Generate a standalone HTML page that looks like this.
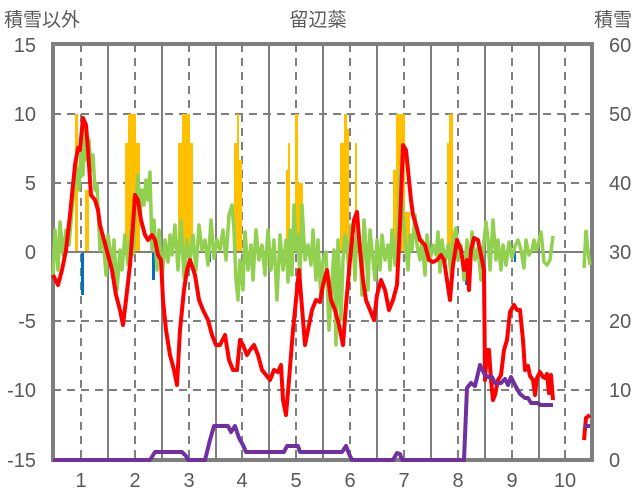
<!DOCTYPE html>
<html><head><meta charset="utf-8"><style>
body{margin:0;background:#fff;}
svg{display:block;font-family:"Liberation Sans","Noto Sans CJK JP",sans-serif;}
</style></head><body>
<svg width="636" height="501" viewBox="0 0 636 501">
<rect width="636" height="501" fill="#fff"/>
<g fill="#595959" font-size="20">
<text x="4" y="26" font-size="19">積雪以外</text>
<text x="318" y="26" text-anchor="middle" font-size="19">留辺蘂</text>
<text x="632" y="26" text-anchor="end" font-size="19">積雪</text>
<g text-anchor="end">
<text x="36" y="52">15</text><text x="36" y="121">10</text><text x="36" y="190">5</text>
<text x="36" y="259">0</text><text x="36" y="328">-5</text><text x="36" y="397">-10</text><text x="36" y="467">-15</text>
</g>
<g text-anchor="start">
<text x="609" y="52">60</text><text x="609" y="121">50</text><text x="609" y="190">40</text>
<text x="609" y="259">30</text><text x="609" y="328">20</text><text x="609" y="397">10</text><text x="609" y="467">0</text>
</g>
<g text-anchor="middle">
<text x="81" y="487">1</text><text x="135" y="487">2</text><text x="189" y="487">3</text><text x="242" y="487">4</text><text x="296" y="487">5</text>
<text x="350" y="487">6</text><text x="404" y="487">7</text><text x="458" y="487">8</text><text x="512" y="487">9</text><text x="565" y="487">10</text>
</g>
</g>
<!-- grid -->
<g stroke="#7f7f7f" stroke-width="2" stroke-dasharray="8,6">
<line x1="53" y1="114" x2="592" y2="114"/><line x1="53" y1="183" x2="592" y2="183"/>
<line x1="53" y1="321" x2="592" y2="321"/><line x1="53" y1="390" x2="592" y2="390"/>
<line x1="81" y1="44" x2="81" y2="460"/><line x1="135" y1="44" x2="135" y2="460"/><line x1="189" y1="44" x2="189" y2="460"/>
<line x1="242" y1="44" x2="242" y2="460"/><line x1="296" y1="44" x2="296" y2="460"/><line x1="350" y1="44" x2="350" y2="460"/>
<line x1="404" y1="44" x2="404" y2="460"/><line x1="458" y1="44" x2="458" y2="460"/><line x1="512" y1="44" x2="512" y2="460"/>
<line x1="565" y1="44" x2="565" y2="460"/>
</g>
<g stroke="#7f7f7f" stroke-width="2">
<line x1="108" y1="44" x2="108" y2="460"/><line x1="162" y1="44" x2="162" y2="460"/><line x1="216" y1="44" x2="216" y2="460"/>
<line x1="269" y1="44" x2="269" y2="460"/><line x1="323" y1="44" x2="323" y2="460"/><line x1="377" y1="44" x2="377" y2="460"/>
<line x1="431" y1="44" x2="431" y2="460"/><line x1="485" y1="44" x2="485" y2="460"/><line x1="539" y1="44" x2="539" y2="460"/>
</g>
<rect x="53" y="44" width="539" height="416" fill="none" stroke="#7f7f7f" stroke-width="4"/>
<!-- bars -->
<g fill="#ffc000">
<rect x="75" y="114" width="3" height="138"/><rect x="85" y="190" width="4" height="62"/>
<rect x="125" y="143" width="3" height="109"/><rect x="128" y="114" width="8" height="138"/><rect x="136" y="143" width="4" height="109"/>
<rect x="178" y="143" width="4" height="109"/><rect x="182" y="114" width="8" height="138"/><rect x="190" y="143" width="3" height="109"/>
<rect x="234" y="143" width="3" height="109"/><rect x="237" y="114" width="2" height="138"/><rect x="239" y="160" width="3" height="92"/>
<rect x="286" y="170" width="2" height="82"/><rect x="288" y="143" width="2" height="109"/><rect x="295" y="114" width="3" height="138"/><rect x="298" y="183" width="5" height="69"/>
<rect x="340" y="143" width="4" height="109"/><rect x="344" y="114" width="3" height="138"/><rect x="347" y="129" width="2" height="123"/><rect x="355" y="143" width="2" height="109"/>
<rect x="393" y="170" width="3" height="82"/><rect x="396" y="114" width="9" height="138"/><rect x="405" y="212" width="5" height="40"/>
<rect x="447" y="143" width="2" height="109"/><rect x="449" y="114" width="4" height="138"/>
</g>
<g fill="#0070c0">
<rect x="81" y="252" width="3" height="43"/><rect x="152" y="252" width="3" height="28"/><rect x="209" y="252" width="2" height="10"/>
<rect x="465" y="252" width="3" height="33"/><rect x="514" y="252" width="2" height="10"/>
</g>
<line x1="53" y1="252" x2="592" y2="252" stroke="#7f7f7f" stroke-width="2"/>
<!-- green -->
<polyline fill="none" stroke="#92d050" stroke-width="3.5" stroke-linejoin="round" points="53,275 55,230 58,270 60,222 63,255 66,230 69,245 72,210 75,180 77,168 79,190 81,150 83,175 85,130 87,160 89,140 91,170 93,155 95,190 97,185 100,250 103,235 106,275 108,235 110,250 112,270 114,240 117,290 120,250 122,270 125,235 128,265 131,230 133,255 136,200 138,175 140,215 142,190 144,205 146,180 148,200 150,172 152,250 154,220 157,270 159,230 162,280 165,240 168,262 170,235 172,255 175,225 178,270 181,220 184,278 187,240 190,263 193,235 196,270 199,225 202,250 205,240 208,265 211,220 214,258 217,240 220,250 223,230 226,260 229,215 232,205 234,230 236,280 238,300 240,260 243,290 245,232 248,270 251,245 253,280 256,230 259,260 262,245 265,275 268,230 271,270 274,240 277,300 280,235 283,270 286,240 288,282 290,230 292,275 294,205 296,250 298,235 300,280 302,205 305,260 308,245 311,265 313,230 316,280 318,240 321,300 323,260 326,252 329,330 332,280 334,250 336,345 338,240 341,320 343,260 345,235 347,245 349,275 351,225 353,240 355,280 357,230 360,245 362,295 364,220 366,245 368,290 370,230 373,260 375,280 377,240 380,270 382,235 385,260 388,245 390,270 392,230 395,265 398,225 400,170 402,200 405,240 408,270 410,235 412,250 415,215 417,245 420,260 422,240 425,275 427,235 430,260 433,245 436,255 438,232 440,272 442,240 445,262 448,245 451,275 453,240 456,228 458,260 461,245 464,280 467,240 470,266 472,232 475,260 478,248 481,280 483,250 486,222 488,240 490,270 493,220 496,260 498,240 501,270 503,245 506,265 509,242 512,258 515,246 518,240 521,250 524,268 526,240 529,255 532,250 534,240 536,250 538,245 541,232 544,262 547,265 550,260 553,236"/>
<polyline fill="none" stroke="#92d050" stroke-width="3.5" points="584,268 586,230 588,252 590,265"/>
<!-- red -->
<polyline fill="none" stroke="#ff0000" stroke-width="4" stroke-linejoin="round" points="53,275 58,285 62,270 66,250 70,215 75,165 78,148 80,150 83,118 86,125 88,150 91,195 95,200 98,210 100,225 104,240 108,255 112,270 116,295 120,310 123,325 126,300 130,265 133,225 135,195 138,200 141,220 145,235 148,240 152,235 155,240 158,255 161,260 163,300 166,330 170,355 174,370 177,385 180,330 184,290 187,270 190,260 195,275 199,300 203,310 208,320 212,335 216,345 220,345 225,335 229,360 233,370 237,370 240,340 243,345 247,355 250,350 254,345 258,355 262,370 266,375 270,380 274,370 278,372 281,365 283,400 286,415 289,380 293,330 296,300 299,270 301,295 305,345 308,330 312,310 316,300 320,302 323,285 327,270 331,300 335,310 339,325 343,345 346,305 350,260 354,220 357,212 360,250 363,280 366,300 370,310 374,320 377,295 381,280 385,290 389,310 393,300 397,285 400,225 403,145 406,150 408,170 411,200 413,215 416,225 420,240 425,245 429,260 433,262 437,260 441,255 444,260 447,280 450,300 453,265 457,240 461,250 464,270 467,260 469,290 471,250 474,238 478,240 481,255 484,270 485,380 487,350 489,350 491,380 493,400 495,395 498,380 501,375 504,350 507,340 510,312 514,305 517,310 520,310 523,340 525,370 528,366 530,376 533,380 535,395 537,378 540,372 543,377 545,378 547,374 549,393 551,375 553,400"/>
<polyline fill="none" stroke="#ff0000" stroke-width="4" points="584,440 586,418 590,415"/>
<!-- purple -->
<polyline fill="none" stroke="#7030a0" stroke-width="4" stroke-linejoin="round" points="53,460 150,460 155,452 182,452 186,456 188,460 205,460 210,440 214,426 228,426 231,432 235,426 239,438 243,445 246,452 284,452 287,446 298,446 300,452 342,452 346,446 350,456 352,460 393,460 397,453 400,454 402,460 464,460 467,388 471,383 475,386 480,365 485,375 488,377 492,377 495,383 501,383 505,379 508,385 511,377 516,387 520,394 525,398 528,398 531,403 538,403 540,405 548,405 553,405"/>
<line x1="584" y1="426" x2="590" y2="426" stroke="#7030a0" stroke-width="4"/>
</svg>
</body></html>
